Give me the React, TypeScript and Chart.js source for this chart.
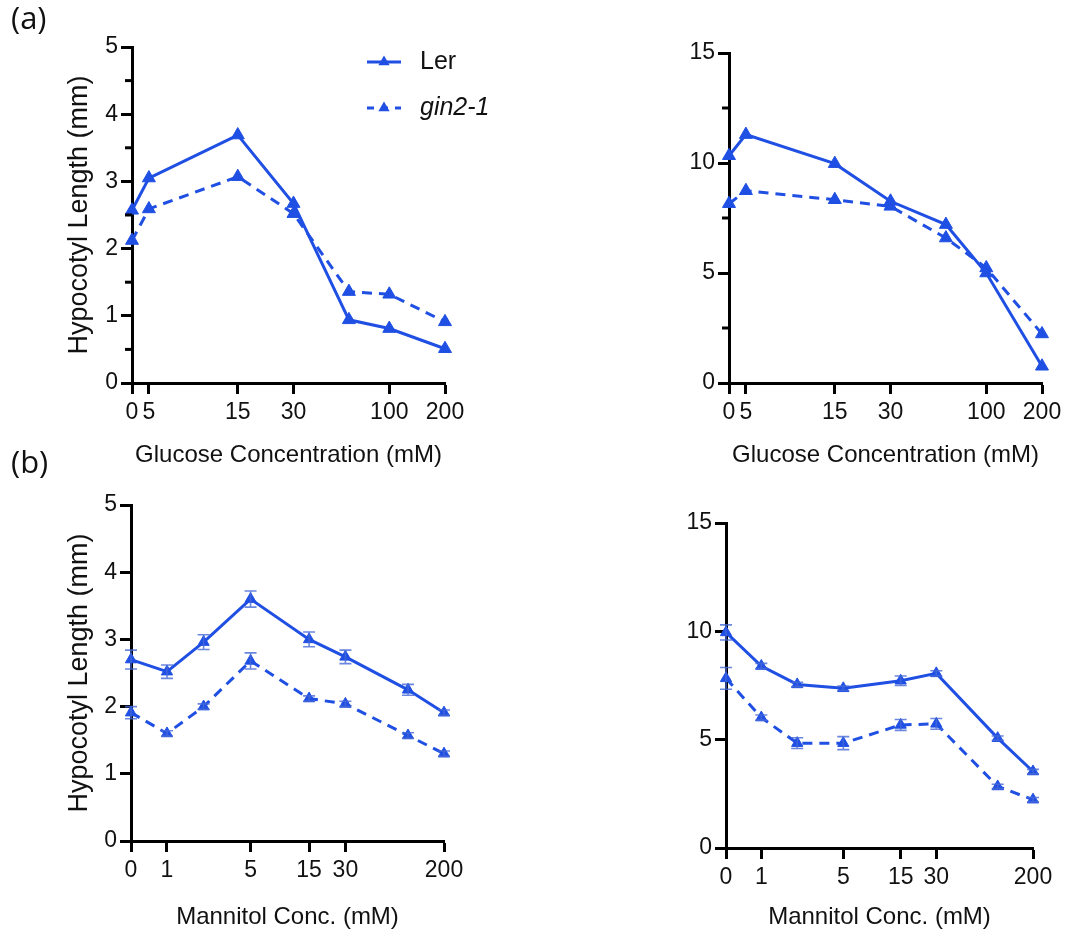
import React, { useEffect, useRef } from 'react';
import { Chart, registerables } from 'chart.js';

Chart.register(...registerables);

// ---------- DATA ----------
const seriesNames = ['Ler', 'gin2-1'];

// Glucose concentrations (mM) and their positions on the (segmented) axis, 0..1
const glucoseConc = ['0', '5', '15', '30', '50', '100', '200'];
const glucoseAxisPos = [0, 0.054, 0.338, 0.516, 0.693, 0.822, 1];
const glucoseTickLabels = ['0', '5', '15', '30', '', '100', '200'];

// Mannitol concentrations (mM) and their axis positions, 0..1
const mannitolConc = ['0', '1', '2', '5', '15', '30', '100', '200'];
const mannitolAxisPos = [0, 0.115, 0.232, 0.382, 0.569, 0.685, 0.885, 1];
const mannitolTickLabels = ['0', '1', '', '5', '15', '30', '', '200'];

// (a) left: hypocotyl length (mm), glucose
const glucoseLerLeft = [2.57, 3.05, 3.69, 2.67, 0.94, 0.81, 0.51];
const glucoseGinLeft = [2.12, 2.59, 3.07, 2.52, 1.36, 1.32, 0.91];
// (a) right
const glucoseLerRight = [10.33, 11.29, 9.97, 8.26, 7.2, 5.0, 0.76];
const glucoseGinRight = [8.15, 8.74, 8.33, 8.03, 6.59, 5.23, 2.23];

// (b) left: mannitol
const mannitolLerLeft = [2.7, 2.52, 2.96, 3.6, 3.0, 2.74, 2.25, 1.91];
const mannitolLerLeftErr = [0.14, 0.1, 0.11, 0.12, 0.11, 0.1, 0.08, 0.04];
const mannitolGinLeft = [1.91, 1.6, 2.0, 2.68, 2.12, 2.04, 1.57, 1.3];
const mannitolGinLeftErr = [0.09, 0.04, 0.04, 0.12, 0.04, 0.04, 0.04, 0.04];
// (b) right
const mannitolLerRight = [9.95, 8.4, 7.55, 7.37, 7.72, 8.06, 5.07, 3.53];
const mannitolLerRightErr = [0.35, 0.12, 0.1, 0.1, 0.22, 0.12, 0.1, 0.1];
const mannitolGinRight = [7.83, 6.02, 4.84, 4.84, 5.68, 5.73, 2.84, 2.23];
const mannitolGinRightErr = [0.5, 0.12, 0.25, 0.3, 0.25, 0.25, 0.1, 0.1];

// y axis ranges: max, labelled step, minor step
const yMaxGlucoseLeft = 5;
const yMaxGlucoseRight = 15;
const yMaxMannitolLeft = 5;
const yMaxMannitolRight = 15;

// ---------- STYLE ----------
const BLUE = '#1f4fe3';
const FONT = '"Liberation Sans", Arial, sans-serif';
const TICK_FS = 23;
const XT_FS = 24;
const YT_FS = 27;
const LEG_FS = 25;
const PAGE_W = 1089;
const PAGE_H = 931;

type PanelCfg = {
  key: string;
  xPos: number[];
  xLabels: string[];
  ler: number[];
  gin: number[];
  lerErr?: number[];
  ginErr?: number[];
  yMax: number;
  yLabelStep: number;
  yMinorStep?: number;
  xTitle: string;
  yTitle?: string;
  legend?: boolean;
  area: { left: number; right: number; top: number; bottom: number };
  xTitleY: number;
  radius: number;
};

const panels: PanelCfg[] = [
  {
    key: 'a1', xPos: glucoseAxisPos, xLabels: glucoseTickLabels,
    ler: glucoseLerLeft, gin: glucoseGinLeft,
    yMax: yMaxGlucoseLeft, yLabelStep: 1, yMinorStep: 0.5,
    xTitle: 'Glucose Concentration (mM)', yTitle: 'Hypocotyl Length (mm)', legend: true,
    area: { left: 132, right: 445, top: 47, bottom: 383 }, xTitleY: 455, radius: 7.5,
  },
  {
    key: 'a2', xPos: glucoseAxisPos, xLabels: glucoseTickLabels,
    ler: glucoseLerRight, gin: glucoseGinRight,
    yMax: yMaxGlucoseRight, yLabelStep: 5, yMinorStep: 2.5,
    xTitle: 'Glucose Concentration (mM)',
    area: { left: 729, right: 1042, top: 53, bottom: 383 }, xTitleY: 455, radius: 7.5,
  },
  {
    key: 'b1', xPos: mannitolAxisPos, xLabels: mannitolTickLabels,
    ler: mannitolLerLeft, gin: mannitolGinLeft, lerErr: mannitolLerLeftErr, ginErr: mannitolGinLeftErr,
    yMax: yMaxMannitolLeft, yLabelStep: 1,
    xTitle: 'Mannitol Conc. (mM)', yTitle: 'Hypocotyl Length (mm)',
    area: { left: 131, right: 444, top: 505, bottom: 841 }, xTitleY: 917, radius: 6.5,
  },
  {
    key: 'b2', xPos: mannitolAxisPos, xLabels: mannitolTickLabels,
    ler: mannitolLerRight, gin: mannitolGinRight, lerErr: mannitolLerRightErr, ginErr: mannitolGinRightErr,
    yMax: yMaxMannitolRight, yLabelStep: 5,
    xTitle: 'Mannitol Conc. (mM)',
    area: { left: 726, right: 1033, top: 523, bottom: 848 }, xTitleY: 917, radius: 6.5,
  },
];

const errorBarPlugin = {
  id: 'errorBars',
  afterDatasetsDraw(chart: any) {
    const ctx = chart.ctx;
    const yScale = chart.scales.y;
    chart.data.datasets.forEach((ds: any, i: number) => {
      const errs: number[] | undefined = ds.errors;
      if (!errs) return;
      const meta = chart.getDatasetMeta(i);
      ctx.save();
      ctx.strokeStyle = 'rgba(70,105,215,0.8)';
      ctx.lineWidth = 1.6;
      meta.data.forEach((pt: any, j: number) => {
        const v = ds.data[j].y;
        const e = errs[j];
        if (!e) return;
        const yt = yScale.getPixelForValue(v + e);
        const yb = yScale.getPixelForValue(v - e);
        ctx.beginPath();
        ctx.moveTo(pt.x, yt); ctx.lineTo(pt.x, yb);
        ctx.moveTo(pt.x - 6, yt); ctx.lineTo(pt.x + 6, yt);
        ctx.moveTo(pt.x - 6, yb); ctx.lineTo(pt.x + 6, yb);
        ctx.stroke();
      });
      ctx.restore();
    });
  },
};

// short minor ticks on the y axis (between labelled ticks)
const minorTickPlugin = {
  id: 'minorTicks',
  afterDraw(chart: any, _args: any, opts: any) {
    if (!opts || !opts.step) return;
    const y = chart.scales.y;
    const ctx = chart.ctx;
    ctx.save();
    ctx.strokeStyle = '#000';
    ctx.lineWidth = 3;
    const n = Math.round((y.max - y.min) / opts.step);
    for (let k = 0; k <= n; k++) {
      const v = y.min + k * opts.step;
      const r = v / opts.major;
      if (Math.abs(r - Math.round(r)) < 1e-6) continue;
      const py = y.getPixelForValue(v);
      ctx.beginPath();
      ctx.moveTo(chart.chartArea.left - 7, py);
      ctx.lineTo(chart.chartArea.left, py);
      ctx.stroke();
    }
    ctx.restore();
  },
};

const legendPlugin = {
  id: 'customLegend',
  afterDraw(chart: any, _args: any, opts: any) {
    if (!opts || !opts.show) return;
    const ctx = chart.ctx;
    const x0 = opts.x;
    const rows = [
      { name: seriesNames[0], y: opts.y0, dash: [] as number[], italic: false },
      { name: seriesNames[1], y: opts.y1, dash: [7, 7], italic: true },
    ];
    rows.forEach((r) => {
      ctx.save();
      ctx.strokeStyle = BLUE;
      ctx.fillStyle = BLUE;
      ctx.lineWidth = 3;
      ctx.setLineDash(r.dash);
      ctx.beginPath();
      ctx.moveTo(x0, r.y);
      ctx.lineTo(x0 + 34, r.y);
      ctx.stroke();
      ctx.setLineDash([]);
      const rad = 6.5;
      const cx = x0 + 17;
      ctx.beginPath();
      ctx.moveTo(cx, r.y - rad);
      ctx.lineTo(cx + rad * 0.866, r.y + rad * 0.5);
      ctx.lineTo(cx - rad * 0.866, r.y + rad * 0.5);
      ctx.closePath();
      ctx.fill();
      ctx.fillStyle = '#111';
      ctx.font = `${r.italic ? 'italic ' : ''}${LEG_FS}px ${FONT}`;
      ctx.textBaseline = 'middle';
      ctx.textAlign = 'left';
      ctx.fillText(r.name, x0 + 53, r.y);
      ctx.restore();
    });
  },
};

function makeConfig(p: PanelCfg): any {
  const yW = p.yTitle ? p.area.left : 60;
  const xLH = XT_FS * 1.2;
  const yLH = YT_FS * 1.2;
  const xH = p.xTitleY + xLH / 2 - p.area.bottom;
  const tickVals = p.xPos.filter((_, i) => p.xLabels[i] !== '');
  const tickFont = { family: FONT, size: TICK_FS };
  const mk = (vals: number[]) => vals.map((v, i) => ({ x: p.xPos[i], y: v }));
  return {
    type: 'line',
    data: {
      datasets: [
        {
          label: seriesNames[0], data: mk(p.ler), errors: p.lerErr,
          borderColor: BLUE, backgroundColor: BLUE, borderWidth: 3,
          pointStyle: 'triangle', pointRadius: p.radius, pointBorderWidth: 1,
          pointBackgroundColor: BLUE, pointBorderColor: BLUE, clip: false, tension: 0,
        },
        {
          label: seriesNames[1], data: mk(p.gin), errors: p.ginErr,
          borderColor: BLUE, backgroundColor: BLUE, borderWidth: 3, borderDash: [10, 7],
          pointStyle: 'triangle', pointRadius: p.radius, pointBorderWidth: 1,
          pointBackgroundColor: BLUE, pointBorderColor: BLUE, clip: false, tension: 0,
        },
      ],
    },
    options: {
      responsive: false,
      animation: false,
      devicePixelRatio: 1,
      layout: {
        padding: {
          left: p.area.left - yW,
          top: p.area.top,
          right: PAGE_W - p.area.right,
          bottom: PAGE_H - p.area.bottom - xH,
        },
      },
      plugins: {
        legend: { display: false },
        tooltip: { enabled: false },
        customLegend: { show: !!p.legend, x: 367, y0: 62, y1: 108 },
        minorTicks: { step: p.yMinorStep || 0, major: p.yLabelStep },
      },
      scales: {
        x: {
          type: 'linear', min: 0, max: 1,
          afterFit: (s: any) => { s.height = xH; },
          afterBuildTicks: (s: any) => { s.ticks = tickVals.map((v) => ({ value: v })); },
          ticks: {
            autoSkip: false, maxRotation: 0, minRotation: 0, color: '#111', font: tickFont, padding: 5,
            callback: (v: number) => {
              const i = p.xPos.findIndex((q) => Math.abs(q - v) < 1e-9);
              return i >= 0 ? p.xLabels[i] : '';
            },
          },
          grid: { display: true, drawOnChartArea: false, drawTicks: true, tickLength: 11, tickWidth: 3, tickColor: '#000' },
          border: { display: true, width: 3, color: '#000' },
          title: { display: true, text: p.xTitle, color: '#111', font: { family: FONT, size: XT_FS }, padding: { top: 0, bottom: 0 } },
        },
        y: {
          type: 'linear', min: 0, max: p.yMax,
          afterFit: (s: any) => { s.width = yW; },
          ticks: { stepSize: p.yLabelStep, color: '#111', font: tickFont, padding: 3 },
          grid: { display: true, drawOnChartArea: false, drawTicks: true, tickLength: 11, tickWidth: 3, tickColor: '#000' },
          border: { display: true, width: 3, color: '#000' },
          title: {
            display: !!p.yTitle, text: p.yTitle || '', color: '#111', font: { family: FONT, size: YT_FS },
            padding: { top: 80 - yLH / 2, bottom: 0 },
          },
        },
      },
    },
    plugins: [errorBarPlugin, minorTickPlugin, legendPlugin],
  };
}

function Panel({ cfg }: { cfg: PanelCfg }) {
  const ref = useRef<HTMLCanvasElement>(null);
  useEffect(() => {
    if (!ref.current) return;
    const chart = new Chart(ref.current, makeConfig(cfg));
    return () => chart.destroy();
  }, [cfg]);
  return (
    <canvas
      ref={ref}
      width={PAGE_W}
      height={PAGE_H}
      style={{ position: 'absolute', left: 0, top: 0, width: PAGE_W, height: PAGE_H }}
    />
  );
}

export default function App() {
  const labelStyle: React.CSSProperties = {
    position: 'absolute', left: 11, fontFamily: '"Open Sans", "Noto Sans", sans-serif',
    fontSize: 31, lineHeight: 1, color: '#111',
  };
  return (
    <div style={{ position: 'absolute', left: 0, top: 0, width: PAGE_W, height: PAGE_H, background: '#fff', overflow: 'hidden' }}>
      {panels.map((p) => (
        <Panel key={p.key} cfg={p} />
      ))}
      <div style={{ ...labelStyle, top: 2 }}>(a)</div>
      <div style={{ ...labelStyle, top: 446 }}>(b)</div>
    </div>
  );
}
